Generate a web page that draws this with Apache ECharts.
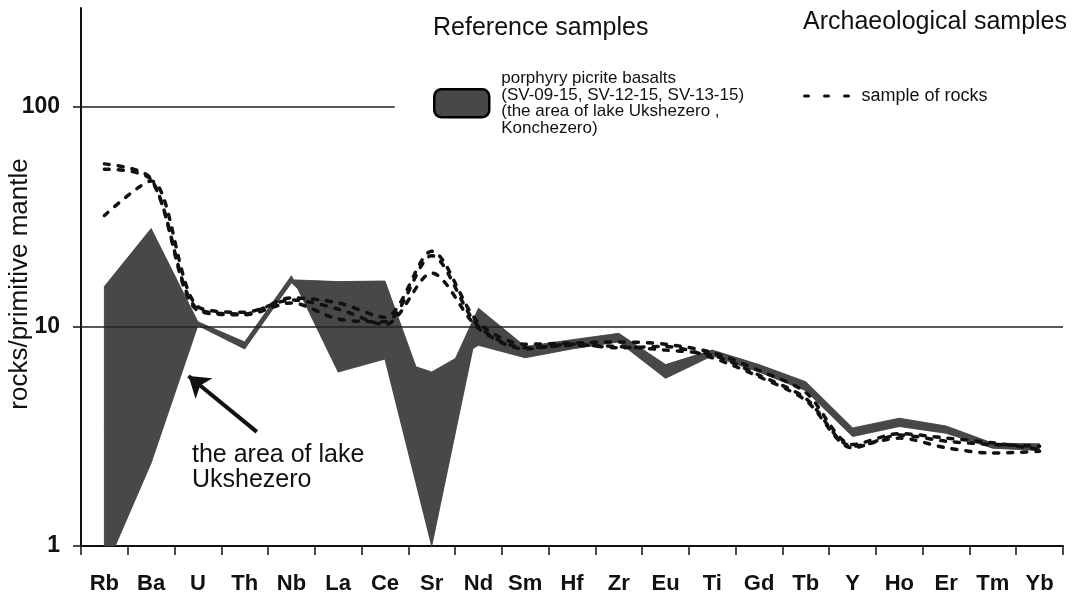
<!DOCTYPE html>
<html><head><meta charset="utf-8">
<script src="https://cdn.jsdelivr.net/npm/echarts@6/dist/echarts.min.js"></script>
<style>html,body{margin:0;padding:0;background:#fff}#c{width:1074px;height:600px}</style>
</head><body><div id="c"></div>
<script>
const categories = ['Rb','Ba','U','Th','Nb','La','Ce','Sr','Nd','Sm','Hf','Zr','Eu','Ti','Gd','Tb','Y','Ho','Er','Tm','Yb'];
// porphyry picrite basalts (SV-09-15, SV-12-15, SV-13-15): the shaded band is the area between them
const basaltSample1 = [15.2, 27.9, 10.5, 8.5, 17.0, 6.2, 7.1, 1.0, 10.5, 7.6, 8.3, 8.9, 6.2, 7.6, 6.45, 5.35, 3.3, 3.65, 3.4, 2.86, 2.82];
const basaltSample2 = [3.5, 8.0, 10.3, 8.2, 16.3, 16.0, 16.1, 4.15, 12.1, 8.1, 8.7, 9.3, 6.7, 7.8, 6.7, 5.6, 3.45, 3.82, 3.52, 2.94, 2.92];
const basaltSample3 = [0.77, 2.39, 10.1, 7.9, 15.8, 10.0, 7.3, 6.2, 8.2, 7.2, 7.9, 8.5, 5.8, 7.35, 6.2, 5.1, 3.15, 3.5, 3.26, 2.79, 2.72];
// archaeological samples (sample of rocks)
const rockSample1 = [55, 47, 12.0, 11.4, 13.5, 12.8, 11.0, 22, 10.4, 8.3, 8.4, 8.5, 8.3, 7.6, 6.3, 5.0, 2.9, 3.25, 3.1, 2.95, 2.75];
const rockSample2 = [52, 46.5, 11.8, 11.3, 12.8, 10.8, 10.5, 21, 10.0, 8.0, 8.2, 8.1, 7.8, 7.4, 6.0, 4.7, 2.85, 3.1, 2.8, 2.65, 2.7];
const rockSample3 = [32, 46, 12.3, 11.6, 13.2, 12.0, 10.2, 17.5, 9.8, 7.9, 8.3, 8.0, 8.1, 7.2, 5.9, 4.6, 2.8, 3.2, 3.0, 2.9, 2.85];
const yTickValues = [1, 10, 100];
const yMax = 282;
const gridLineValues = [10, 100];
const gridLine100End = 6.21;          // category-position where the 100 line stops
const arrowFrom = [3.26, 3.31];       // [category position, value]
const arrowTo = [1.80, 5.95];

const basaltName = 'porphyry picrite basalts\n(SV-09-15, SV-12-15, SV-13-15)\n(the area of lake Ukshezero ,\nKonchezero)';
const rockName = 'sample of rocks';
const FONT = '"Liberation Sans", Arial, Helvetica, sans-serif';

const chart = echarts.init(document.getElementById('c'), null, {renderer: 'canvas'});

const dashStyle = {color: '#111', width: 3.5, type: [5, 9], cap: 'round'};
const basaltSamples = [basaltSample1, basaltSample2, basaltSample3];

const option = {
  animation: false,
  backgroundColor: '#fff',
  color: ['#111'],
  textStyle: {fontFamily: FONT},
  title: [
    {text: 'Reference samples', left: 433, top: 16, padding: 0,
     textStyle: {fontFamily: FONT, fontSize: 25, fontWeight: 'normal', color: '#111'}},
    {text: 'Archaeological samples', right: 7, top: 10, padding: 0,
     textStyle: {fontFamily: FONT, fontSize: 25, fontWeight: 'normal', color: '#111'}}
  ],
  legend: [
    {data: [basaltName], left: 433, top: 70, padding: 0, selectedMode: false,
     itemWidth: 55, itemHeight: 28, icon: 'roundRect',
     itemStyle: {borderColor: '#000', borderWidth: 2.5},
     textStyle: {fontFamily: FONT, fontSize: 17, lineHeight: 16.5, color: '#111', padding: [0, 0, 0, 7]}},
    {data: [rockName], left: 803, top: 87, padding: 0, selectedMode: false,
     itemWidth: 46, itemHeight: 16,
     itemStyle: {opacity: 0},
     lineStyle: {color: '#111', width: 3, type: [4, 16], cap: 'round', opacity: 1},
     textStyle: {fontFamily: FONT, fontSize: 18, color: '#111', padding: [0, 0, 0, 6]}}
  ],
  grid: {left: 81, right: 11, top: 8, bottom: 54, containLabel: false, outerBoundsMode: 'none'},
  xAxis: [
    {type: 'category', data: categories, boundaryGap: true,
     axisLine: {onZero: false, lineStyle: {color: '#111', width: 2}},
     axisTick: {show: true, inside: false, length: 9, lineStyle: {color: '#111', width: 1.5}},
     axisLabel: {fontFamily: FONT, fontSize: 22, fontWeight: 'bold', color: '#111', margin: 27},
     splitLine: {show: false}},
    {type: 'value', min: -0.5, max: 20.5, show: false}
  ],
  yAxis: {
    type: 'log', logBase: 10, min: 1, max: yMax,
    name: 'rocks/primitive mantle', nameLocation: 'middle', nameGap: 48, nameRotate: 90,
    nameMoveOverlap: false,
    nameTextStyle: {fontFamily: FONT, fontSize: 26, color: '#111', padding: [0, 14, 0, 0]},
    axisLine: {show: true, onZero: false, lineStyle: {color: '#111', width: 2}},
    axisTick: {show: true, inside: false, length: 8, customValues: yTickValues, lineStyle: {color: '#111', width: 1.5}},
    axisLabel: {fontFamily: FONT, fontSize: 23, fontWeight: 'bold', color: '#111', margin: 21,
                customValues: yTickValues},
    splitLine: {show: false}
  },
  series: [
    {
      name: 'gridlines', type: 'line', xAxisIndex: 1, data: [], silent: true, z: 1,
      markLine: {
        silent: true, symbol: 'none', animation: false, label: {show: false},
        lineStyle: {color: '#222', width: 1.5, type: 'solid'},
        data: [
          [{coord: [-0.5, gridLineValues[0]]}, {coord: [20.5, gridLineValues[0]]}],
          [{coord: [-0.5, gridLineValues[1]]}, {coord: [gridLine100End, gridLineValues[1]]}]
        ]
      }
    },
    {
      name: basaltName, type: 'custom', xAxisIndex: 0, yAxisIndex: 0, z: 2,
      itemStyle: {color: '#484848'},
      data: categories.map((c, i) => [i, basaltSample1[i], basaltSample2[i], basaltSample3[i]]),
      encode: {x: 0, y: [1, 2, 3]},
      renderItem: function (params, api) {
        if (params.dataIndex !== 0) return null;
        const lines = basaltSamples.map(s => s.map((v, i) => api.coord([i, v])));
        const pairs = [[0, 1], [0, 2], [1, 2]];
        const cs = params.coordSys;
        return {
          type: 'group',
          clipPath: {type: 'rect', shape: {x: cs.x, y: cs.y, width: cs.width, height: cs.height}},
          children: pairs.map(p => ({
            type: 'polygon',
            shape: {points: lines[p[0]].concat(lines[p[1]].slice().reverse())},
            style: {fill: '#484848', stroke: '#484848', lineWidth: 0.5}
          }))
        };
      }
    },
    {name: rockName, type: 'line', data: rockSample1, symbol: 'none', smooth: 0.3, z: 5, itemStyle: {color: '#111'}, lineStyle: dashStyle},
    {name: rockName, type: 'line', data: rockSample2, symbol: 'none', smooth: 0.3, z: 5, itemStyle: {color: '#111'}, lineStyle: dashStyle},
    {name: rockName, type: 'line', data: rockSample3, symbol: 'none', smooth: 0.3, z: 5, itemStyle: {color: '#111'}, lineStyle: dashStyle},
    {
      name: 'arrow', type: 'line', xAxisIndex: 1, data: [], silent: true, z: 6,
      markLine: {
        silent: true, animation: false, label: {show: false},
        symbol: ['none', 'arrow'], symbolSize: 20,
        lineStyle: {color: '#111', width: 4, type: 'solid'},
        data: [[{coord: arrowFrom}, {coord: arrowTo}]]
      }
    }
  ],
  graphic: [
    {type: 'text', left: 192, top: 443, silent: true,
     style: {text: 'the area of lake\nUkshezero', fontFamily: FONT, fontSize: 25, lineHeight: 25, fill: '#111'}}
  ]
};
chart.setOption(option);
</script>
</body></html>
